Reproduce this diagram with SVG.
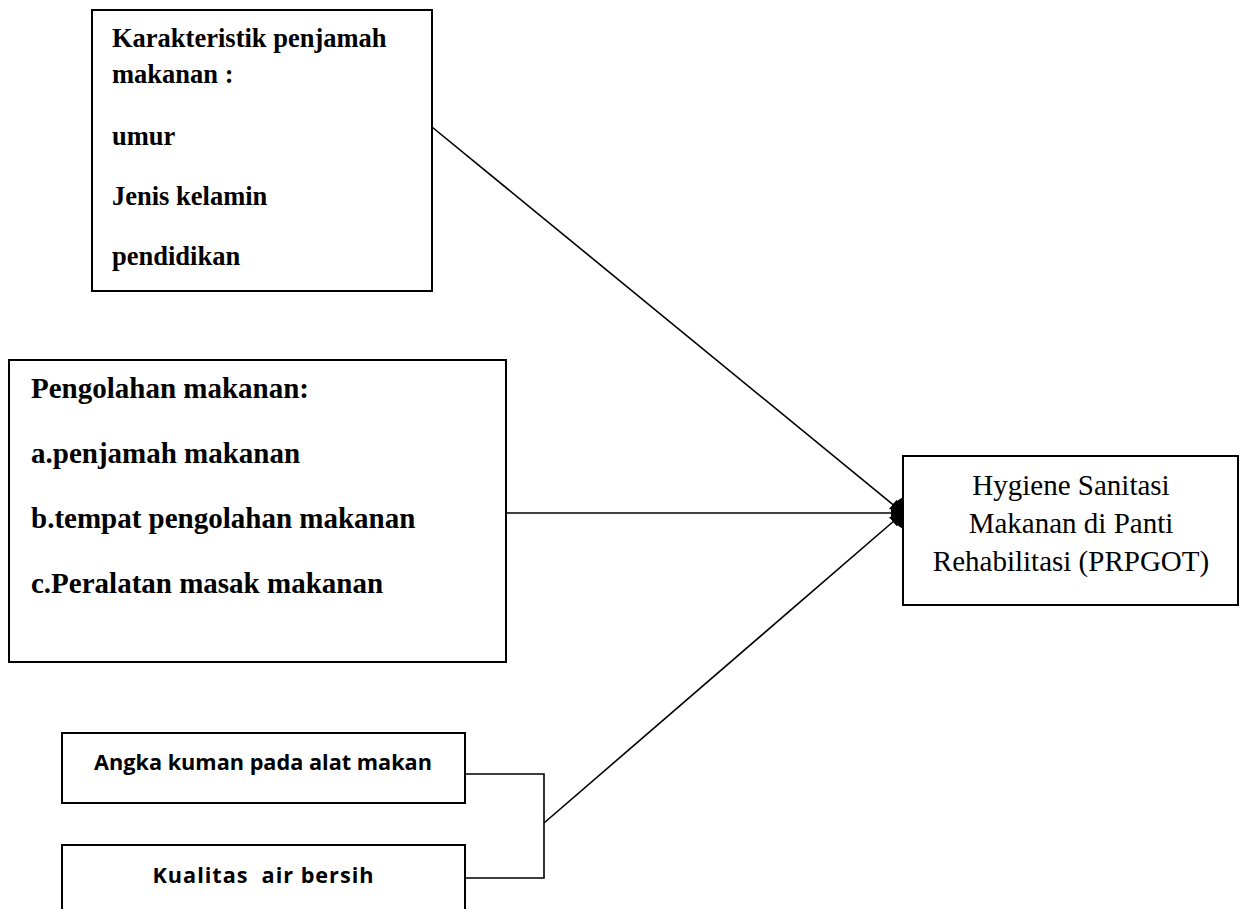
<svg xmlns="http://www.w3.org/2000/svg" width="1244" height="909" viewBox="0 0 1244 909">
<style>
.box{fill:#fff;stroke:#000;stroke-width:2}
.ln{fill:none;stroke:#000;stroke-width:1.6}
.tb{font-family:"Liberation Serif","Times New Roman",serif;font-weight:bold;fill:#000}
.tr{font-family:"Liberation Serif","Times New Roman",serif;fill:#000;font-size:29px}
.ts{font-family:"Open Sans","Liberation Sans",sans-serif;font-weight:bold;fill:#000;font-size:21.7px}
</style>
<defs>
<marker id="ah" viewBox="0 0 10 10" refX="10" refY="5" markerWidth="12" markerHeight="12" markerUnits="userSpaceOnUse" orient="auto">
<path d="M0,0 L10,5 L0,10 z" fill="#000"/>
</marker>
</defs>
<rect width="1244" height="909" fill="#fff"/>
<g id="connectors">
<line class="ln" x1="432" y1="127" x2="902" y2="512" marker-end="url(#ah)"/>
<line class="ln" x1="506" y1="513" x2="903" y2="513" marker-end="url(#ah)"/>
<polyline class="ln" points="465,774 544,774 544,878 465,878"/>
<line class="ln" x1="544" y1="823" x2="902" y2="514" marker-end="url(#ah)"/>
<path d="M892,510 L897,501 L903,497 L903,529 L897,525 L892,517 z" fill="#000"/>
</g>
<g id="node-karakteristik">
<rect class="box" x="92" y="10" width="340" height="281"/>
<text class="tb" font-size="26.5" x="112" y="47">Karakteristik penjamah</text>
<text class="tb" font-size="26.5" x="112" y="83">makanan :</text>
<text class="tb" font-size="26.5" x="112" y="145">umur</text>
<text class="tb" font-size="26.5" x="112" y="205">Jenis kelamin</text>
<text class="tb" font-size="26.5" x="112" y="265">pendidikan</text>
</g>
<g id="node-pengolahan">
<rect class="box" x="9" y="360" width="497" height="302"/>
<text class="tb" font-size="29" x="31" y="398">Pengolahan makanan:</text>
<text class="tb" font-size="29" x="31" y="463">a.penjamah makanan</text>
<text class="tb" font-size="29" x="31" y="528">b.tempat pengolahan makanan</text>
<text class="tb" font-size="29" x="31" y="593">c.Peralatan masak makanan</text>
</g>
<g id="node-hygiene">
<rect class="box" x="903" y="456" width="335" height="149"/>
<text class="tr" x="1071" y="495" text-anchor="middle">Hygiene Sanitasi</text>
<text class="tr" x="1071" y="533" text-anchor="middle">Makanan di Panti</text>
<text class="tr" x="1071" y="571" text-anchor="middle">Rehabilitasi (PRPGOT)</text>
</g>
<g id="node-angka">
<rect class="box" x="62" y="733" width="403" height="70"/>
<text class="ts" x="263" y="770" text-anchor="middle">Angka kuman pada alat makan</text>
</g>
<g id="node-kualitas">
<rect class="box" x="62" y="845" width="403" height="80"/>
<text class="ts" x="263" y="883" text-anchor="middle" xml:space="preserve" textLength="221" lengthAdjust="spacing">Kualitas  air bersih</text>
</g>
</svg>
